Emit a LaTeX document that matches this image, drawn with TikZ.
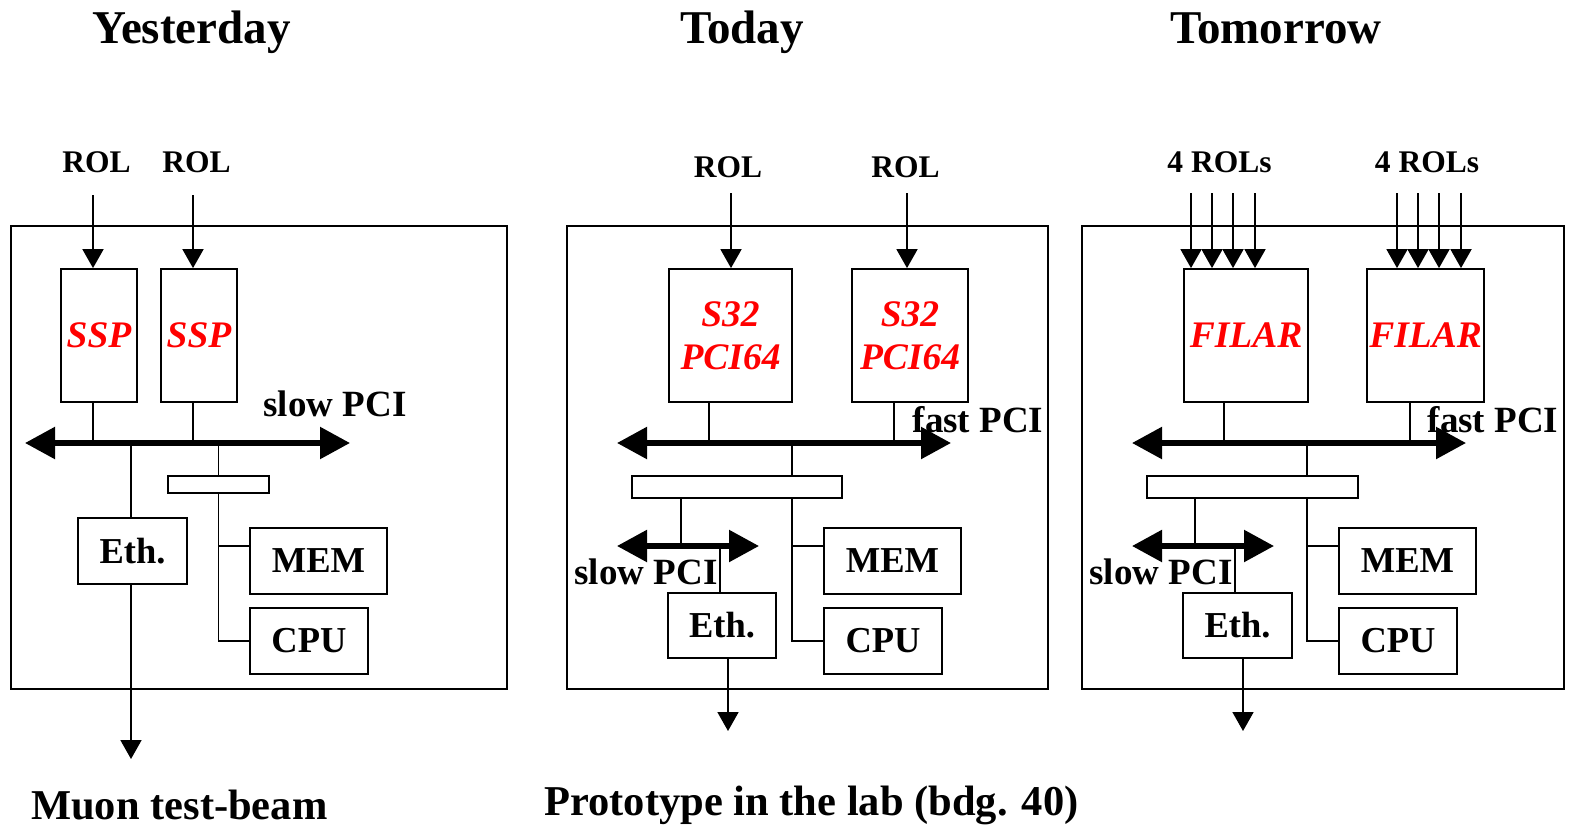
\documentclass[tikz,border=0pt]{standalone}
\usepackage{fontspec}
\setmainfont{Liberation Serif}
\usetikzlibrary{arrows.meta}
\newcommand\myfs[1]{\fontsize{#1}{#1}\selectfont}
\begin{document}
\begin{tikzpicture}[x=1pt,y=-1pt,
  wire/.style={line width=1.8pt},
  frame/.style={draw, line width=1.8pt, inner sep=0pt},
  box/.style={draw, line width=1.8pt, inner sep=0pt, font=\bfseries\myfs{36.5}},
  card/.style={draw, line width=1.8pt, inner sep=0pt, text=red, align=center, font=\bfseries\itshape\fontsize{37.5}{43}\selectfont},
  lbl/.style={inner sep=0pt, anchor=base, font=\bfseries\myfs{31.5}},
  pci/.style={inner sep=0pt, anchor=base, font=\bfseries\myfs{37}},
  ttl/.style={inner sep=0pt, anchor=base, font=\bfseries\myfs{47}},
  bottomtext/.style={inner sep=0pt, font=\bfseries\myfs{42.5}},
  bus/.style={line width=5.5pt, {Triangle[length=30pt,width=31pt]}-{Triangle[length=30pt,width=31pt]}},
  sig/.style={line width=1.8pt, -{Triangle[length=19pt,width=21pt]}},
]
\useasboundingbox (0,0) rectangle (1570,827);

% titles
\node[ttl] (t1) at (191.5,43) {Yesterday};
\node[ttl] (t2) at (742,43) {Today};
\node[ttl] (t3) at (1276,43) {Tomorrow};

% ================= Yesterday =================
\node[frame, minimum width=496pt, minimum height=463pt] (fA) at (259,457.5) {};
\node[card, minimum width=76pt, minimum height=133pt] (sA1) at (99,335.5) {SSP};
\node[card, minimum width=76pt, minimum height=133pt] (sA2) at (199,335.5) {SSP};
\node[lbl] (rA1) at (96.5,172) {ROL};
\node[lbl] (rA2) at (196.5,172) {ROL};
\coordinate (aA1) at (93,195);
\coordinate (aA2) at (193,195);
\draw[sig] (aA1) -- (aA1 |- sA1.north);
\draw[sig] (aA2) -- (aA2 |- sA2.north);
\coordinate (bA1) at (25,443);
\coordinate (bA2) at (350,443);
\draw[wire] (aA1 |- sA1.south) -- (aA1 |- bA1);
\draw[wire] (aA2 |- sA2.south) -- (aA2 |- bA1);
\draw[bus] (bA1) -- (bA2);
\node[pci] (pA) at (335,416) {slow PCI};
\node[box, minimum width=109pt, minimum height=66pt] (eA) at (132.5,551) {Eth.};
\node[frame, minimum width=101pt, minimum height=17pt] (gA) at (218.5,484.5) {};
\node[box, minimum width=137pt, minimum height=66pt] (mA) at (318.5,561) {MEM};
\node[box, minimum width=118pt, minimum height=66pt] (cA) at (309,641) {CPU};
\coordinate (oA) at (131,759);
\draw[wire] (oA |- bA1) -- (oA |- eA.north);
\draw[sig] (oA |- eA.south) -- (oA);
\draw[wire] (gA.north |- bA1) -- (gA.north);
\draw[wire] (gA.south) -- (gA.south |- cA.west) -- (cA.west);
\coordinate (mA1) at ([yshift=15pt]mA.west);
\draw[wire] (gA.south |- mA1) -- (mA1);
\node[bottomtext, anchor=base west] (mu) at (31,819) {Muon test-beam};

% ================= Today =================
\node[frame, minimum width=481pt, minimum height=463pt] (fB) at (807.5,457.5) {};
\node[card, minimum width=123pt, minimum height=133pt] (sB1) at (730.5,335.5) {S32\\PCI64};
\node[card, minimum width=116pt, minimum height=133pt] (sB2) at (910,335.5) {S32\\PCI64};
\node[lbl] (rB1) at (728,177) {ROL};
\node[lbl] (rB2) at (905.5,177) {ROL};
\coordinate (aB1) at (731,193);
\coordinate (aB2) at (907,193);
\draw[sig] (aB1) -- (aB1 |- sB1.north);
\draw[sig] (aB2) -- (aB2 |- sB2.north);
\coordinate (bB1) at (617,443);
\coordinate (bB2) at (951,443);
\coordinate (kB1) at (709,443);
\coordinate (kB2) at (894,443);
\draw[wire] (kB1 |- sB1.south) -- (kB1);
\draw[wire] (kB2 |- sB2.south) -- (kB2);
\draw[bus] (bB1) -- (bB2);
\node[pci] (pB) at (978,432) {fast PCI};
\node[frame, minimum width=210pt, minimum height=22pt] (gB) at (737,487) {};
\node[box, minimum width=137pt, minimum height=66pt] (mB) at (892.5,561) {MEM};
\node[box, minimum width=118pt, minimum height=66pt] (cB) at (883,641) {CPU};
\coordinate (vB) at (792,443);
\draw[wire] (vB) -- (vB |- gB.north);
\draw[wire] (vB |- gB.south) -- (vB |- cB.west) -- (cB.west);
\coordinate (mB1) at ([yshift=15pt]mB.west);
\draw[wire] (vB |- mB1) -- (mB1);
\coordinate (lB) at (681,546);
\draw[wire] (lB |- gB.south) -- (lB);
\coordinate (qB1) at (617,546);
\coordinate (qB2) at (759,546);
\draw[bus] (qB1) -- (qB2);
\node[box, minimum width=108pt, minimum height=65pt] (eB) at (722,625.5) {Eth.};
\coordinate (wB) at (720,546);
\draw[wire] (wB) -- (wB |- eB.north);
\coordinate (oB) at (728,731);
\draw[sig] (oB |- eB.south) -- (oB);
\node[pci] (sp2) at (646,584) {slow PCI};
\node[bottomtext, anchor=base] (pr) at (811.5,815) {Prototype in the lab (bdg. 40)};

% ================= Tomorrow =================
\node[frame, minimum width=482pt, minimum height=463pt] (fC) at (1323,457.5) {};
\node[card, minimum width=124pt, minimum height=133pt] (sC1) at (1246,335.5) {FILAR};
\node[card, minimum width=117pt, minimum height=133pt] (sC2) at (1425.5,335.5) {FILAR};
\node[lbl] (rC1) at (1219.5,172) {4 ROLs};
\node[lbl] (rC2) at (1427,172) {4 ROLs};
\foreach \x [count=\i] in {1191,1212,1233,1255} {
  \coordinate (aC1\i) at (\x,193);
  \draw[sig] (aC1\i) -- (aC1\i |- sC1.north);
}
\foreach \x [count=\i] in {1397,1418,1439,1461} {
  \coordinate (aC2\i) at (\x,193);
  \draw[sig] (aC2\i) -- (aC2\i |- sC2.north);
}
\coordinate (bC1) at (1132,443);
\coordinate (bC2) at (1466,443);
\coordinate (kC1) at (1224,443);
\coordinate (kC2) at (1410,443);
\draw[wire] (kC1 |- sC1.south) -- (kC1);
\draw[wire] (kC2 |- sC2.south) -- (kC2);
\draw[bus] (bC1) -- (bC2);
\node[pci] (pC) at (1493,432) {fast PCI};
\node[frame, minimum width=211pt, minimum height=22pt] (gC) at (1252.5,487) {};
\node[box, minimum width=137pt, minimum height=66pt] (mC) at (1407.5,561) {MEM};
\node[box, minimum width=118pt, minimum height=66pt] (cC) at (1398,641) {CPU};
\coordinate (vC) at (1307,443);
\draw[wire] (vC) -- (vC |- gC.north);
\draw[wire] (vC |- gC.south) -- (vC |- cC.west) -- (cC.west);
\coordinate (mC1) at ([yshift=15pt]mC.west);
\draw[wire] (vC |- mC1) -- (mC1);
\coordinate (lC) at (1195,546);
\draw[wire] (lC |- gC.south) -- (lC);
\coordinate (qC1) at (1132,546);
\coordinate (qC2) at (1274,546);
\draw[bus] (qC1) -- (qC2);
\node[box, minimum width=109pt, minimum height=65pt] (eC) at (1237.5,625.5) {Eth.};
\coordinate (wC) at (1235,546);
\draw[wire] (wC) -- (wC |- eC.north);
\coordinate (oC) at (1243,731);
\draw[sig] (oC |- eC.south) -- (oC);
\node[pci] (sp3) at (1161,584) {slow PCI};
\end{tikzpicture}
\end{document}
